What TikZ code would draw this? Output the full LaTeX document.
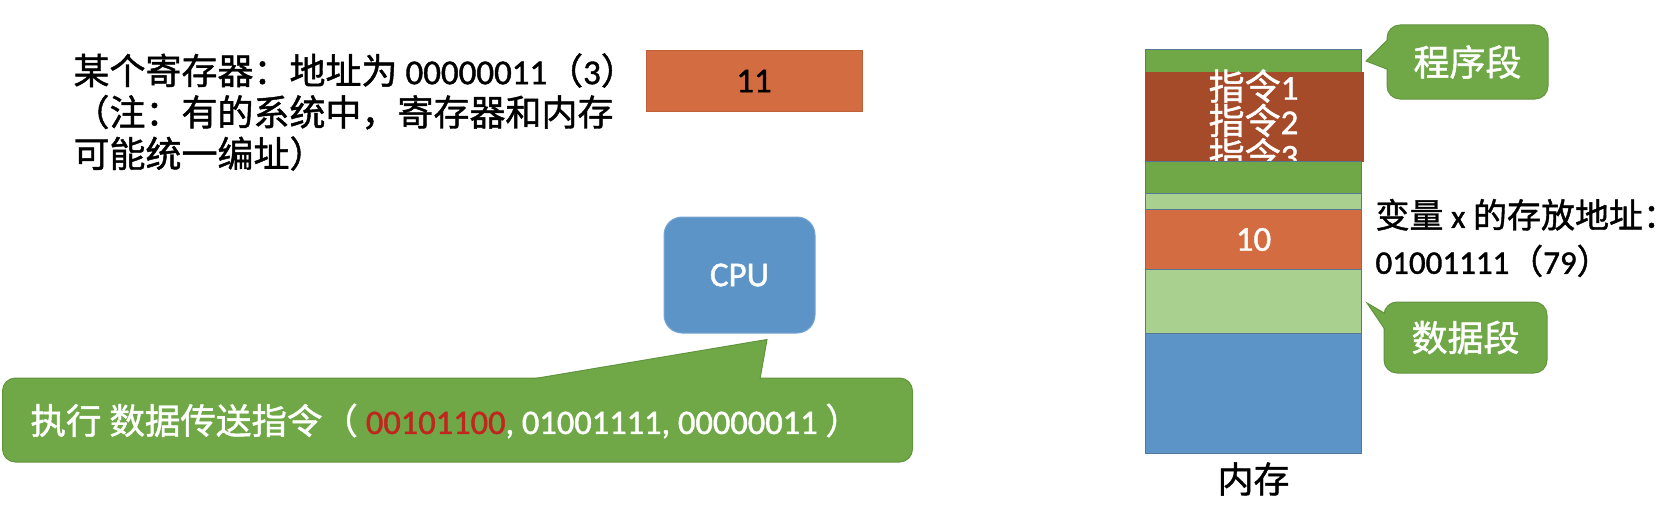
\documentclass[tikz,border=0pt]{standalone}
\usepackage{fontspec}
\setmainfont{Noto Sans CJK SC}[FakeBold=1.2]
\newfontfamily\lat{Carlito}[FakeBold=1.2, Scale=0.97]
\usetikzlibrary{positioning,calc}
\definecolor{pptgreen}{RGB}{112,168,72}
\definecolor{greenline}{RGB}{98,148,62}
\definecolor{pptlight}{RGB}{169,208,142}
\definecolor{pptorange}{RGB}{211,108,64}
\definecolor{orangeline}{RGB}{190,96,56}
\definecolor{pptred}{RGB}{166,75,42}
\definecolor{pptblue}{RGB}{93,148,200}
\definecolor{blueline}{RGB}{120,165,210}
\definecolor{memline}{RGB}{84,120,150}
\definecolor{opred}{RGB}{192,38,30}
\tikzstyle{txt} = [inner sep=0pt, font=\fontsize{36}{41.5}\selectfont]
\tikzstyle{regbox} = [rectangle, draw=orangeline, fill=pptorange, minimum width=216pt, minimum height=61pt, txt]
\tikzstyle{cpubox} = [rectangle, rounded corners=18pt, draw=blueline, fill=pptblue, text=white, minimum width=151pt, minimum height=116pt, txt]
\tikzstyle{bubble} = [rectangle, rounded corners=13pt, draw=greenline, fill=pptgreen, text=white, txt]
\tikzstyle{seg} = [rectangle, draw=memline, anchor=north west, minimum width=216pt, txt]
\tikzstyle{tail} = [fill=pptgreen]
\tikzstyle{tailline} = [draw=greenline]

\begin{document}
\begin{tikzpicture}[x=1pt, y=-1pt, line width=1pt]
	\useasboundingbox (0,0) rectangle (1680,511);
	%Place nodes
	\node [txt, anchor=west, align=left] (regnote) at (73,112) {某个寄存器：地址为 {\lat 00000011}（{\lat 3}）\\（注：有的系统中，寄存器和内存\\可能统一编址）};
	\node [regbox] (reg) at (754,81) {\lat 11};
	\node [cpubox] (cpu) at (739.5,275) {\lat CPU};
	\node [bubble, anchor=west, minimum width=910pt, minimum height=84pt] (cmd) at (2,420) {};
	\node [txt, anchor=west, text=white, font=\fontsize{35.5}{41.5}\selectfont] (cmdtext) at ($(cmd.west)+(28,1)$) {执行 数据传送指令（ {\lat\color{opred}00101100}{\lat , 01001111, 00000011 }）};

	%Memory
	\node [seg, fill=pptgreen, minimum height=23pt] (prog1) at (1145,49) {};
	\node [seg, draw=pptred, fill=pptred, minimum height=89pt, minimum width=218pt] (instr) at (1145,72) {};
	\node [txt, text=white, align=center, font=\fontsize{36}{27.5}\selectfont] (instrtext) at ($(instr.center)+(-1,3.5)$) {指令{\lat 1}\\指令{\lat 2}\\指令{\lat 3}};
	\node [seg, fill=pptgreen, minimum height=32pt] (prog2) at (1145,161) {};
	\node [seg, fill=pptlight, minimum height=16pt] (gap) at (1145,193) {};
	\node [seg, fill=pptorange, minimum height=60pt, text=white] (varx) at (1145,209) {\lat 10};
	\node [seg, fill=pptlight, minimum height=64pt] (data) at (1145,269) {};
	\node [seg, fill=pptblue, minimum height=120pt] (free) at (1145,333) {};
	\node [txt] (memlabel) at ($(free.south)+(0,25)$) {内存};
	\node [txt, anchor=west, align=left, font=\fontsize{34}{46}\selectfont] (varnote) at (1375,238) {变量 {\lat x} 的存放地址：\\{\lat 01001111}（{\lat 79}）};

	%Callouts
	\node [bubble, minimum width=161pt, minimum height=74pt] (progbub) at (1467.5,62) {程序段};
	\node [bubble, minimum width=163pt, minimum height=71pt] (databub) at (1465.5,337.5) {数据段};
	\coordinate (cputip) at ($(cpu.south)+(27.5,6)$);
	\coordinate (progtip) at ($(prog1.north east)+(4,12)$);
	\coordinate (datatip) at ($(data.north east)+(5,34)$);

	\fill [tail] ($(cmd.north west)+(530,1.5)$) -- (cputip) -- ($(cmd.north west)+(758,1.5)$) -- cycle;
	\draw [tailline] ($(cmd.north west)+(530,1.5)$) -- (cputip) -- ($(cmd.north west)+(758,1.5)$);
	\fill [tail] ($(progbub.north west)+(1.5,15)$) -- (progtip) -- ($(progbub.north west)+(1.5,45)$) -- cycle;
	\draw [tailline] ($(progbub.north west)+(1.5,15)$) -- (progtip) -- ($(progbub.north west)+(1.5,45)$);
	\fill [tail] ($(databub.north west)+(1.5,12)$) -- (datatip) -- ($(databub.north west)+(1.5,28)$) -- cycle;
	\draw [tailline] ($(databub.north west)+(1.5,12)$) -- (datatip) -- ($(databub.north west)+(1.5,28)$);
\end{tikzpicture}
\end{document}
